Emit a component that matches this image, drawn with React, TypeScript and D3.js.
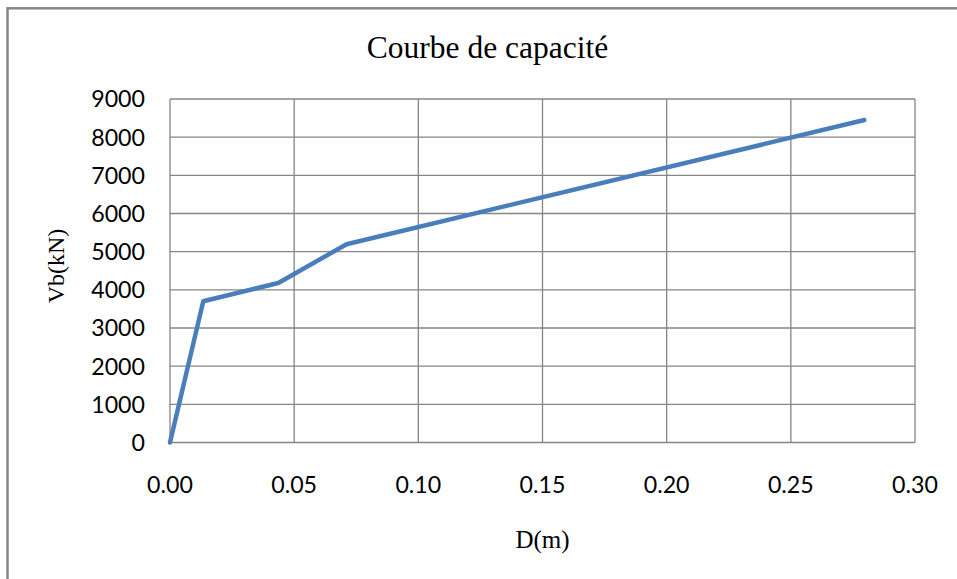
import React from "react";
import * as d3 from "d3";

const displacement = [0, 0.0134, 0.0436, 0.0711, 0.2796];
const baseShear = [0, 3700, 4180, 5195, 8450];
const xTicks = [0, 0.05, 0.1, 0.15, 0.2, 0.25, 0.3];
const yTicks = [0, 1000, 2000, 3000, 4000, 5000, 6000, 7000, 8000, 9000];
const title = "Courbe de capacité";
const xTitle = "D(m)";
const yTitle = "Vb(kN)";

export default function App() {
  const W = 957, H = 579;
  const left = 170, right = 915, top = 99, bottom = 442.5;
  const x = d3.scaleLinear().domain([0, 0.3]).range([left, right]);
  const y = d3.scaleLinear().domain([0, 9000]).range([bottom, top]);
  const pts = displacement.map((d, i) => [d, baseShear[i]] as [number, number]);
  const line = d3.line<[number, number]>().x(d => x(d[0])).y(d => y(d[1]));
  const grid = "#868686";
  const tickFont = "Lato, 'Open Sans', sans-serif";
  const serif = "'Liberation Serif', 'Times New Roman', serif";
  return (
    <svg width={W} height={H} style={{ position: "absolute", left: 0, top: 0, background: "#fff" }}>
      <rect x={7.5} y={8.3} width={W + 20} height={H + 20} fill="#fff" stroke={grid} strokeWidth={2.5} />
      <text x={487.5} y={57.5} textAnchor="middle" fontFamily={serif} fontSize={31.5} fill="#000">{title}</text>
      {yTicks.map(t => (
        <line key={"gy" + t} x1={left} x2={right} y1={y(t)} y2={y(t)} stroke={grid} strokeWidth={1.3} />
      ))}
      {xTicks.map(t => (
        <line key={"gx" + t} x1={x(t)} x2={x(t)} y1={top} y2={bottom} stroke={grid} strokeWidth={1.3} />
      ))}
      {yTicks.map(t => (
        <text key={"ty" + t} x={145} y={y(t)} dy="0.36em" textAnchor="end" fontFamily={tickFont} fontSize={23.2} fill="#000">{t}</text>
      ))}
      {xTicks.map(t => (
        <text key={"tx" + t} x={x(t)} y={493} textAnchor="middle" fontFamily={tickFont} fontSize={23.2} fill="#000">{d3.format(".2f")(t)}</text>
      ))}
      <path d={line(pts) || ""} fill="none" stroke="#4a7ebb" strokeWidth={4.5} strokeLinejoin="round" strokeLinecap="round" />
      <text x={542.5} y={548} textAnchor="middle" fontFamily={serif} fontSize={25} fill="#000">{xTitle}</text>
      <text transform={`translate(63.5,266) rotate(-90)`} textAnchor="middle" fontFamily={serif} fontSize={24} fill="#000">{yTitle}</text>
    </svg>
  );
}
